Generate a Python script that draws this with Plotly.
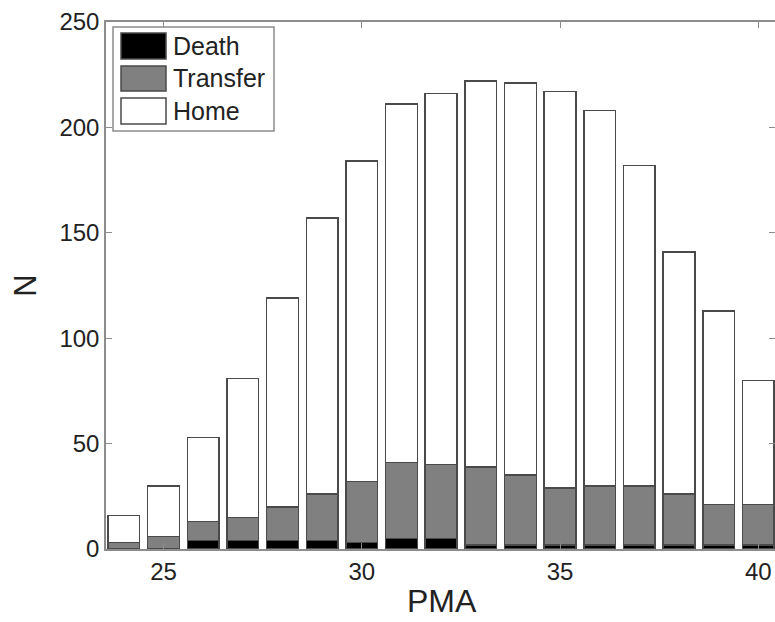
import plotly.graph_objects as go

pma = list(range(24, 41))
death = [0, 0, 4, 4, 4, 4, 3, 5, 5, 2, 2, 2, 2, 2, 2, 2, 2]
transfer = [3, 6, 9, 11, 16, 22, 29, 36, 35, 37, 33, 27, 28, 28, 24, 19, 19]
home = [13, 24, 40, 66, 99, 131, 152, 170, 176, 183, 186, 188, 178, 152, 115, 92, 59]
series_names = ["Death", "Transfer", "Home"]
series_colors = ["#000000", "#808080", "#ffffff"]
x_ticks = [25, 30, 35, 40]
y_ticks = [0, 50, 100, 150, 200, 250]

W, H = 775, 622
L, R, T, B = 106, 0, 22, 73
pw, ph = W - L - R, H - T - B

def px(x):
    return (x - L) / pw

def py(y):
    return 1 - (y - T) / ph

edge = "#4a4a4a"
fig = go.Figure()
for name, vals, col in zip(series_names, [death, transfer, home], series_colors):
    fig.add_trace(go.Bar(x=pma, y=vals, name=name, width=0.8,
                         marker=dict(color=col, line=dict(color=edge, width=1.5)),
                         showlegend=False))

font = "Liberation Sans, Arial, sans-serif"
axis_col = "#8c8c8c"
fig.update_layout(
    width=W, height=H, barmode="stack", bargap=0.2,
    margin=dict(l=L, r=R, t=T, b=B, autoexpand=False),
    paper_bgcolor="white", plot_bgcolor="white",
    font=dict(family=font, size=24, color="#222222"),
    xaxis=dict(range=[23.55, 40.42], tickvals=x_ticks, ticks="inside", ticklen=6,
               tickcolor=axis_col, showline=True, linecolor=axis_col, linewidth=1.5,
               mirror="ticks", showgrid=False, zeroline=False),
    yaxis=dict(range=[0, 250], tickvals=y_ticks, ticks="inside", ticklen=6,
               tickcolor=axis_col, showline=True, linecolor=axis_col, linewidth=1.5,
               mirror="ticks", showgrid=False, zeroline=False,
               title=dict(text="N", font=dict(size=31), standoff=14)),
)

# x-axis title
fig.add_annotation(xref="paper", yref="paper", x=px(442), y=py(601), text="PMA",
                   showarrow=False, xanchor="center", yanchor="middle",
                   font=dict(size=32, family=font, color="#222222"))

# legend box
fig.add_shape(type="rect", xref="paper", yref="paper",
              x0=px(113), x1=px(274), y0=py(131), y1=py(27),
              line=dict(color=axis_col, width=1.5), fillcolor="white", layer="above")
rows = [(33, 59), (66, 91), (98, 124)]
for (y0, y1), name, col in zip(rows, series_names, series_colors):
    fig.add_shape(type="rect", xref="paper", yref="paper",
                  x0=px(121), x1=px(166), y0=py(y1), y1=py(y0),
                  line=dict(color=edge, width=1.5), fillcolor=col, layer="above")
    fig.add_annotation(xref="paper", yref="paper", x=px(171), y=py((y0 + y1) / 2),
                       text=name, showarrow=False, xanchor="left", yanchor="middle",
                       font=dict(size=25, family=font, color="#222222"))

fig.write_html("out.html")
